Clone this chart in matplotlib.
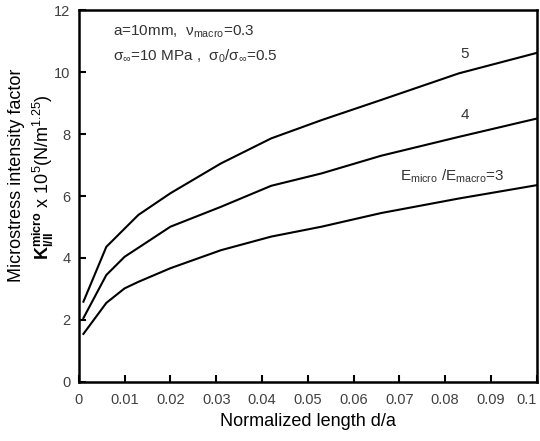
import matplotlib
matplotlib.use('Agg')
import matplotlib.pyplot as plt

plt.rcParams['font.family'] = ['Liberation Sans', 'DejaVu Sans']
plt.rcParams['mathtext.fontset'] = 'custom'
plt.rcParams['mathtext.rm'] = 'Liberation Sans'
plt.rcParams['mathtext.it'] = 'Liberation Sans'
plt.rcParams['mathtext.bf'] = 'Liberation Sans:bold'

# normalized length d/a
d_a = [0.001, 0.006, 0.01, 0.013, 0.02, 0.031, 0.042, 0.053, 0.066, 0.083, 0.1]
# K values for E_micro/E_macro = 5, 4, 3
k_ratio5 = [2.59, 4.36, 4.95, 5.39, 6.09, 7.05, 7.86, 8.45, 9.10, 9.96, 10.62]
k_ratio4 = [2.06, 3.45, 4.04, 4.33, 5.01, 5.65, 6.33, 6.73, 7.30, 7.91, 8.50]
k_ratio3 = [1.55, 2.55, 3.02, 3.23, 3.67, 4.25, 4.69, 5.01, 5.45, 5.92, 6.35]

x_ticks = [0, 0.01, 0.02, 0.03, 0.04, 0.05, 0.06, 0.07, 0.08, 0.09, 0.1]
x_labels = ['0', '0.01', '0.02', '0.03', '0.04', '0.05', '0.06', '0.07', '0.08', '0.09', '0.1']
y_ticks = [0, 2, 4, 6, 8, 10, 12]

fig = plt.figure(figsize=(5.4, 4.41), dpi=100)
ax = fig.add_axes([0.146, 0.134, 0.848, 0.843])

for k in (k_ratio5, k_ratio4, k_ratio3):
    ax.plot(d_a, k, color='black', lw=1.5)

ax.set_xlim(0, 0.1)
ax.set_ylim(0, 12)
ax.set_xticks(x_ticks)
ax.set_xticklabels(x_labels)
ax.set_yticks(y_ticks)
ax.tick_params(direction='in', length=5, width=1.5, labelsize=10.5, labelcolor='#404040')
ax.tick_params(axis='x', pad=8)
ax.tick_params(axis='y', pad=6)
last = ax.get_xticklabels()[-1]
last.set_horizontalalignment('right')
for s in ax.spines.values():
    s.set_linewidth(1.8)

ax.set_xlabel('Normalized length d/a', fontsize=13, labelpad=4)

# two-line y label placed by hand
fig.text(17 / 540, 1 - 175 / 441, 'Microstress intensity factor', fontsize=13,
         rotation=90, ha='center', va='center')
fig.text(43 / 540, 1 - 177 / 441,
         r'$\mathbf{K}_{\mathbf{I/II}}^{\mathbf{micro}}$ x 10$^{5}$(N/m$^{1.25}$)',
         fontsize=13, rotation=90, ha='center', va='center')

txt = '#333333'
ax.text(0.0074, 11.3, r'a=10mm,  $\nu_{\mathrm{macro}}$=0.3', fontsize=11, color=txt, va='center')
ax.text(0.0074, 10.5, r'$\sigma_{\infty}$=10 MPa ,  $\sigma_0/\sigma_{\infty}$=0.5', fontsize=11,
        color=txt, va='center')
ax.text(0.0843, 10.6, '5', fontsize=11, color=txt, ha='center', va='center')
ax.text(0.0843, 8.6, '4', fontsize=11, color=txt, ha='center', va='center')
ax.text(0.0815, 6.65, r'E$_{\mathrm{micro}}$ /E$_{\mathrm{macro}}$=3', fontsize=11, color=txt,
        ha='center', va='center')

fig.savefig('out.png', dpi=100)
